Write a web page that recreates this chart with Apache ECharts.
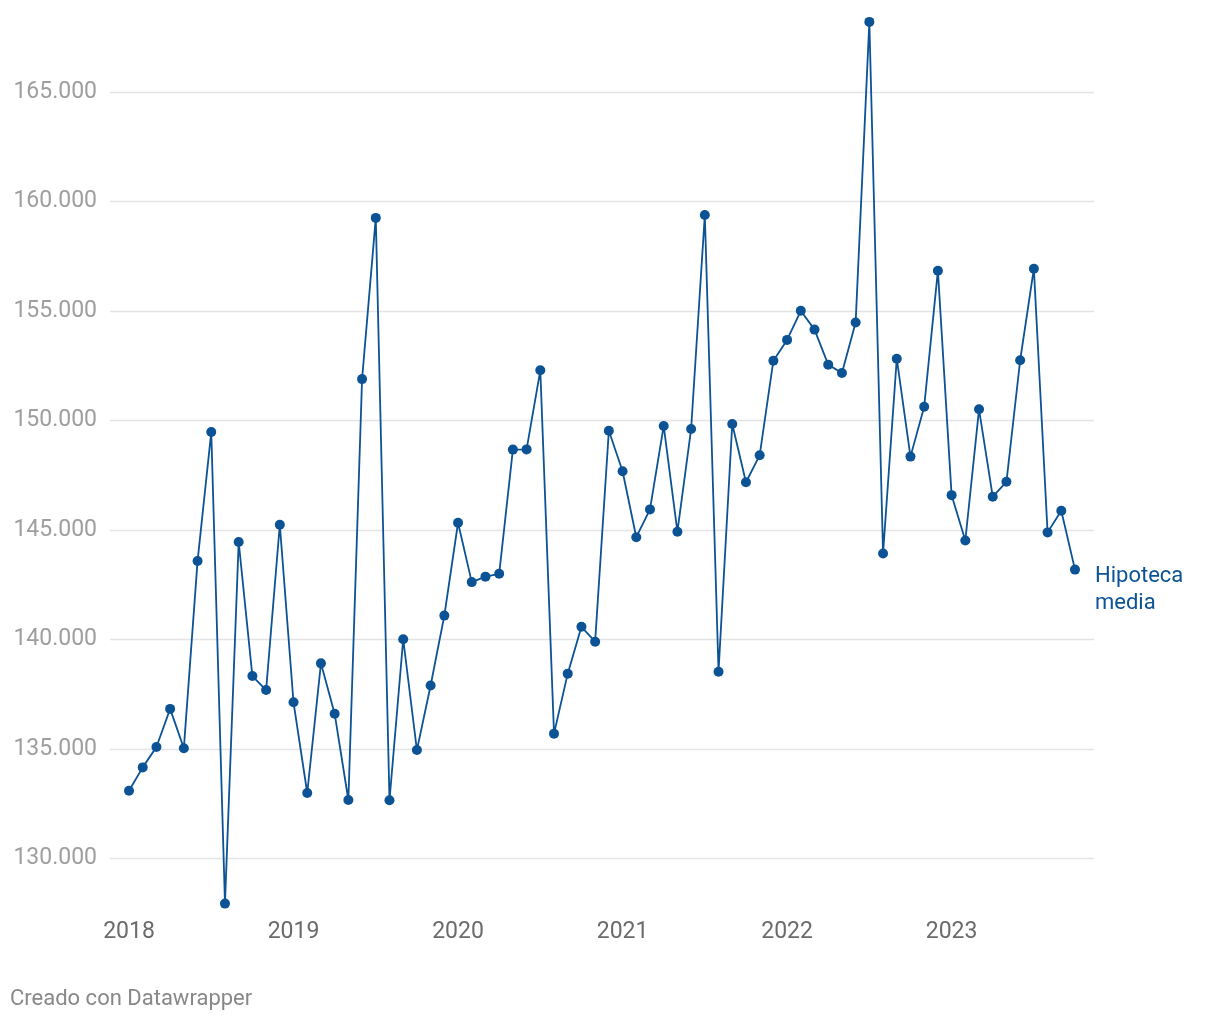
<!DOCTYPE html>
<html>
<head>
<meta charset="utf-8">
<script src="https://cdn.jsdelivr.net/npm/echarts@6/dist/echarts.min.js"></script>
<style>
  html, body { margin: 0; padding: 0; background: #ffffff; }
  #chart { width: 1220px; height: 1020px; }
</style>
</head>
<body>
<div id="chart"></div>
<script>
// Monthly data, Jan 2018 – Oct 2023 (index 0 = Jan 2018)
const months = [
  '2018-01','2018-02','2018-03','2018-04','2018-05','2018-06','2018-07','2018-08','2018-09','2018-10','2018-11','2018-12',
  '2019-01','2019-02','2019-03','2019-04','2019-05','2019-06','2019-07','2019-08','2019-09','2019-10','2019-11','2019-12',
  '2020-01','2020-02','2020-03','2020-04','2020-05','2020-06','2020-07','2020-08','2020-09','2020-10','2020-11','2020-12',
  '2021-01','2021-02','2021-03','2021-04','2021-05','2021-06','2021-07','2021-08','2021-09','2021-10','2021-11','2021-12',
  '2022-01','2022-02','2022-03','2022-04','2022-05','2022-06','2022-07','2022-08','2022-09','2022-10','2022-11','2022-12',
  '2023-01','2023-02','2023-03','2023-04','2023-05','2023-06','2023-07','2023-08','2023-09','2023-10'
];
const hipotecaMedia = [
  133100,134170,135100,136840,135040,143590,149480,127950,144460,138340,137700,145250,
  137140,133000,138920,136620,132680,151900,159260,132670,140020,134960,137910,141100,
  145340,142630,142880,143010,148680,148690,152300,135710,138450,140590,139910,149540,
  147690,144680,145950,149760,144930,149620,159390,138540,149850,147190,148420,152740,
  153690,155020,154160,152560,152180,154480,168210,143940,152830,148360,150640,156850,
  146600,144530,150520,146530,147210,152760,156940,144900,145890,143200
];
const yearTickIndex = [0, 12, 24, 36, 48, 60];
const yearTickLabels = ['2018', '2019', '2020', '2021', '2022', '2023'];
const seriesName = 'Hipoteca\nmedia';
const footerText = 'Creado con Datawrapper';

const lineColor = '#0b5394';
const fontFamily = 'Roboto, "Noto Sans", sans-serif';

const chart = echarts.init(document.getElementById('chart'), null, { renderer: 'canvas' });

const seriesData = hipotecaMedia.map((v, i) => [i, v]);

chart.setOption({
  animation: false,
  backgroundColor: '#ffffff',
  textStyle: { fontFamily },
  grid: {
    left: 110,
    right: 126,
    top: 4.6,
    bottom: 51.8,
    containLabel: false
  },
  xAxis: {
    type: 'value',
    min: -1.386,
    max: 70.386,
    offset: -35.7,
    axisLine: { show: false },
    axisTick: { show: false },
    splitLine: { show: false },
    axisLabel: {
      customValues: yearTickIndex,
      formatter: (val) => {
        const k = yearTickIndex.indexOf(Math.round(val));
        return k >= 0 ? yearTickLabels[k] : '';
      },
      margin: 0,
      verticalAlign: 'middle',
      color: '#6b6b6b',
      fontSize: 23,
      fontFamily
    }
  },
  yAxis: {
    type: 'value',
    min: 125000,
    max: 169000,
    interval: 5000,
    axisLine: { show: false },
    axisTick: { show: false },
    splitLine: {
      show: true,
      showMinLine: false,
      showMaxLine: false,
      lineStyle: { color: '#e4e4e4', width: 1.3 }
    },
    axisLabel: {
      showMinLabel: false,
      showMaxLabel: false,
      margin: 13,
      color: '#9e9e9e',
      fontSize: 23,
      fontFamily,
      formatter: (v) => (v % 5000 === 0 ? v.toLocaleString('de-DE') : '')
    }
  },
  series: [{
    name: seriesName,
    type: 'line',
    data: seriesData,
    symbol: 'circle',
    symbolSize: 10,
    showAllSymbol: true,
    clip: false,
    lineStyle: { color: lineColor, width: 1.8 },
    itemStyle: { color: lineColor },
    endLabel: {
      show: true,
      formatter: () => seriesName,
      color: lineColor,
      fontSize: 22,
      lineHeight: 27,
      fontFamily,
      distance: 20,
      offset: [0, 20],
      align: 'left'
    }
  }],
  graphic: [{
    type: 'text',
    left: 10,
    top: 988,
    style: {
      text: footerText,
      fill: '#888888',
      fontSize: 22,
      fontFamily
    }
  }]
});
</script>
</body>
</html>
